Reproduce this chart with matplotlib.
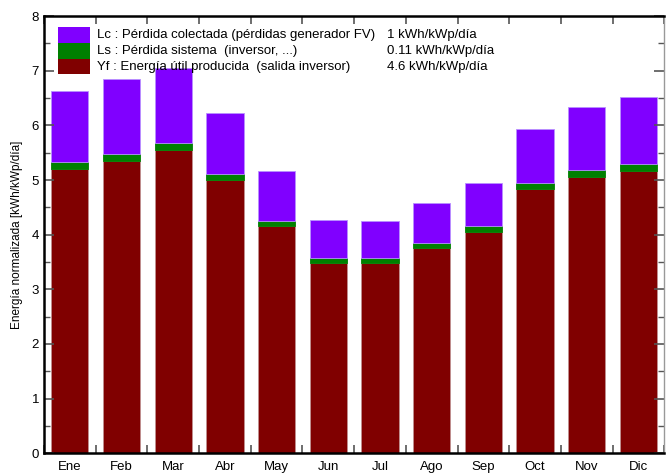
import numpy as np
import matplotlib
matplotlib.use('Agg')
import matplotlib.pyplot as plt
from matplotlib.patches import Rectangle
from matplotlib.ticker import MultipleLocator

plt.rcParams['font.family'] = ['Liberation Sans', 'DejaVu Sans']

months = ['Ene', 'Feb', 'Mar', 'Abr', 'May', 'Jun', 'Jul', 'Ago', 'Sep', 'Oct', 'Nov', 'Dic']
yf = [5.20, 5.35, 5.55, 5.00, 4.16, 3.48, 3.48, 3.76, 4.05, 4.83, 5.06, 5.165]
ls = [0.135, 0.126, 0.13, 0.115, 0.09, 0.10, 0.10, 0.09, 0.10, 0.11, 0.13, 0.125]
lc = [1.30, 1.38, 1.365, 1.105, 0.91, 0.68, 0.67, 0.72, 0.79, 0.99, 1.14, 1.23]

legend_labels = ['Lc : Pérdida colectada (pérdidas generador FV)',
                 'Ls : Pérdida sistema  (inversor, ...)',
                 'Yf : Energía útil producida  (salida inversor)']
legend_values = ['1 kWh/kWp/día', '0.11 kWh/kWp/día', '4.6 kWh/kWp/día']

c_red = '#800000'
c_green = '#008000'
c_purple = '#8000ff'

fig = plt.figure(figsize=(6.67, 4.74), dpi=100)
ax = fig.add_axes([0.066, 0.044, 0.93, 0.922])

x = np.arange(len(months))
yf = np.array(yf)
ls = np.array(ls)
lc = np.array(lc)
w = 0.72
ax.bar(x, yf, w, color=c_red, edgecolor='#c09090', linewidth=0.6)
ax.bar(x, ls, w, bottom=yf, color=c_green, edgecolor=c_green, linewidth=0.6)
ax.bar(x, lc, w, bottom=yf + ls, color=c_purple, edgecolor='#b890ff', linewidth=0.6)

ax.set_xlim(-0.5, 11.5)
ax.set_ylim(0, 8)
ax.set_xticks(x)
ax.set_xticklabels(months, fontsize=9.5)
ax.set_xticks(np.arange(-0.5, 12, 1), minor=True)
ax.yaxis.set_major_locator(MultipleLocator(1))
ax.yaxis.set_minor_locator(MultipleLocator(0.5))
ax.tick_params(axis='x', which='major', length=0, pad=6)
ax.tick_params(axis='x', which='minor', direction='in', length=6, width=1.2,
               color='#555555', top=True, bottom=True)
ax.tick_params(axis='y', which='both', direction='in', left=True, right=True,
               color='#555555', labelsize=9.5)
ax.tick_params(axis='y', which='major', length=7, width=1.2)
ax.tick_params(axis='y', which='minor', length=4, width=1.0)
for side in ['left', 'bottom', 'top']:
    ax.spines[side].set_linewidth(1.8)
ax.spines['right'].set_linewidth(1.0)
ax.spines['right'].set_color('#999999')

ax.set_ylabel('Energía normalizada [kWh/kWp/día]', fontsize=8.5, labelpad=6)

# legend block
colors = [c_purple, c_green, c_red]
for i, (lab, val, col) in enumerate(zip(legend_labels, legend_values, colors)):
    y0 = 0.976 - 0.0365 * (i + 1)
    ax.add_patch(Rectangle((0.0225, y0), 0.052, 0.0365, transform=ax.transAxes,
                           facecolor=col, edgecolor='none', zorder=5))
    ax.text(0.086, y0 + 0.018, lab, transform=ax.transAxes, fontsize=9.5,
            va='center', ha='left', zorder=6)
    ax.text(0.553, y0 + 0.018, val, transform=ax.transAxes, fontsize=9.5,
            va='center', ha='left', zorder=6)

fig.savefig('out.png', dpi=100)
